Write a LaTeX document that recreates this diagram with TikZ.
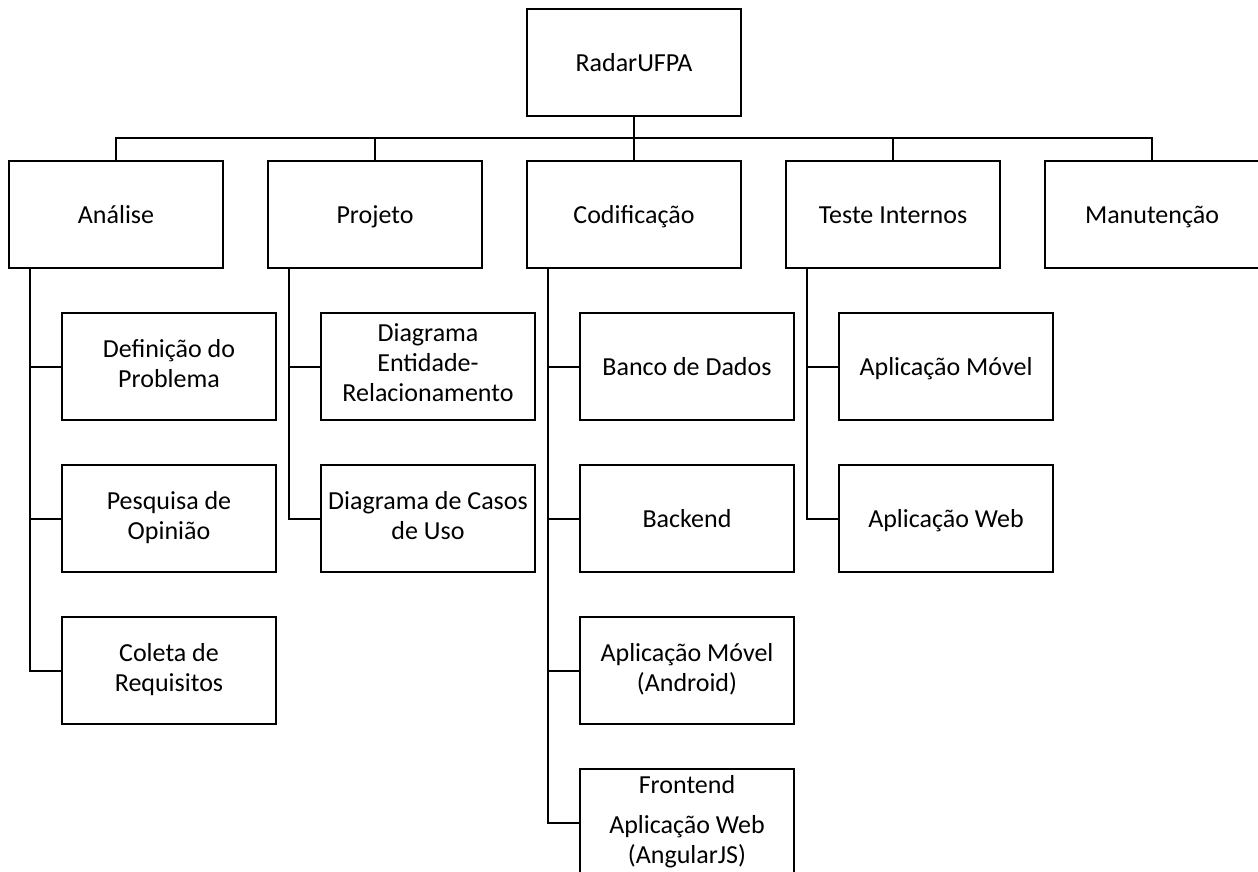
\documentclass[tikz,border=0pt]{standalone}
\usepackage{fontspec}
\setmainfont{Carlito}
\usepackage{tikz}
\usetikzlibrary{positioning}
\tikzstyle{wbs}=[rectangle, draw=black, line width=2.4pt, minimum width=214pt, minimum height=107pt, inner sep=2pt, align=center, execute at begin node={\rule{0pt}{25pt}}, execute at end node={\rule[-7pt]{0pt}{7pt}}]
\tikzstyle{link}=[draw=black, line width=2pt]

\begin{document}
\begin{tikzpicture}[node distance=259pt, font=\fontsize{26}{30}\selectfont]
          \useasboundingbox (0,0) rectangle (1258pt,-871pt);
          \node[wbs] (radar) at (634pt,-62.5pt) {RadarUFPA};

          \node[wbs] (cod) [node distance=152pt, below of=radar] {Codificação};
          \node[wbs] (proj) [left of=cod] {Projeto};
          \node[wbs] (ana) [left of=proj] {Análise};
          \node[wbs] (teste) [right of=cod] {Teste Internos};
          \node[wbs] (manut) [right of=teste] {Manutenção};

          \node[wbs] (def) [node distance=152pt, below of=ana, xshift=53pt] {Definição do\\Problema};
          \node[wbs] (pesq) [node distance=152pt, below of=def] {Pesquisa de\\Opinião};
          \node[wbs] (coleta) [node distance=152pt, below of=pesq] {Coleta de\\Requisitos};

          \node[wbs] (der) [node distance=152pt, below of=proj, xshift=53pt] {Diagrama\\Entidade-\\Relacionamento};
          \node[wbs] (casos) [node distance=152pt, below of=der] {Diagrama de Casos\\de Uso};

          \node[wbs] (banco) [node distance=152pt, below of=cod, xshift=53pt] {Banco de Dados};
          \node[wbs] (back) [node distance=152pt, below of=banco] {Backend};
          \node[wbs] (movel) [node distance=152pt, below of=back] {Aplicação Móvel\\(Android)};
          \node[wbs] (front) [node distance=152pt, below of=movel] {Frontend\\[10pt]Aplicação Web\\(AngularJS)};

          \node[wbs] (tmovel) [node distance=152pt, below of=teste, xshift=53pt] {Aplicação Móvel};
          \node[wbs] (tweb) [node distance=152pt, below of=tmovel] {Aplicação Web};

          \draw[link] (radar.south) -- (cod.north);
          \draw[link] (ana.north) -- ++(0,22pt) -| (manut.north);
          \foreach \n in {proj, teste}
                \draw[link] (\n.north) -- ++(0,22pt);

          \foreach \c in {def, pesq, coleta}
                \draw[link] ([xshift=22pt]ana.south west) |- (\c.west);
          \foreach \c in {der, casos}
                \draw[link] ([xshift=22pt]proj.south west) |- (\c.west);
          \foreach \c in {banco, back, movel, front}
                \draw[link] ([xshift=22pt]cod.south west) |- (\c.west);
          \foreach \c in {tmovel, tweb}
                \draw[link] ([xshift=22pt]teste.south west) |- (\c.west);
\end{tikzpicture}
\end{document}
